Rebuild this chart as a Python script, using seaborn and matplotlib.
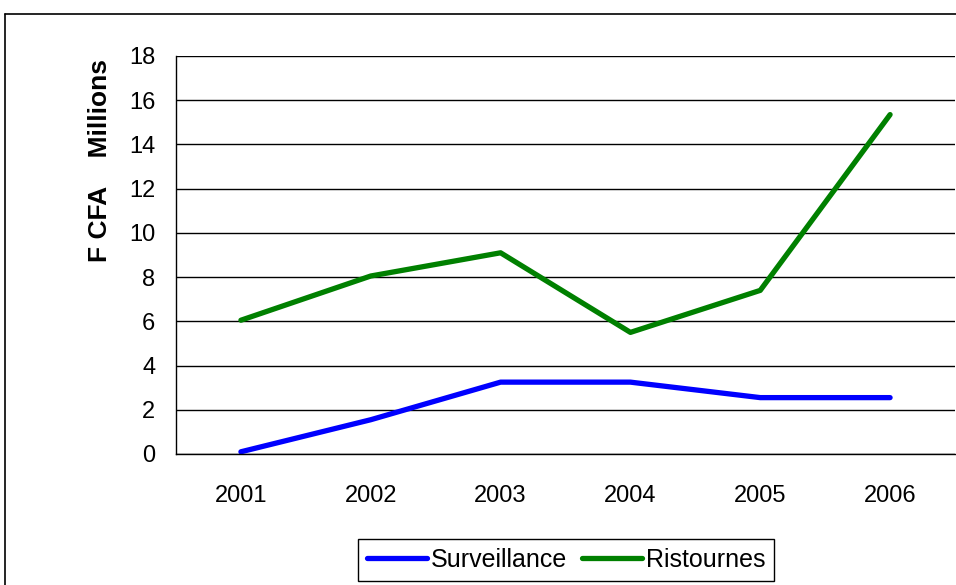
import numpy as np
import pandas as pd
import matplotlib.pyplot as plt
from matplotlib.lines import Line2D
import seaborn as sns

sns.set_style('white')
plt.rcParams['font.family'] = ['Liberation Sans', 'DejaVu Sans']
plt.rcParams['text.color'] = 'black'
plt.rcParams['xtick.color'] = 'black'
plt.rcParams['ytick.color'] = 'black'

years = [2001, 2002, 2003, 2004, 2005, 2006]
surveillance = [0.1, 1.55, 3.25, 3.25, 2.55, 2.55]
ristournes = [6.05, 8.05, 9.1, 5.5, 7.4, 15.35]
series = ['Surveillance', 'Ristournes']
colors = ['#0000FF', '#008000']

df = pd.DataFrame({'year': years * 2,
                   'value': surveillance + ristournes,
                   'serie': ['Surveillance'] * 6 + ['Ristournes'] * 6})

fig = plt.figure(figsize=(9.56, 5.85), dpi=100)
ax = fig.add_axes([176/956, 1-454/585, 779/956, (454-56)/585])

sns.lineplot(data=df, x='year', y='value', hue='serie', hue_order=series,
             palette=colors, lw=3.8, ax=ax, legend=False,
             solid_capstyle='round')

ax.set_xlim(2000.5, 2006.5)
ax.set_ylim(0, 18)
ax.set_yticks(np.arange(0, 19, 2))
ax.set_xticks(years)
ax.set_xticks(np.arange(2000.5, 2007, 1), minor=True)
ax.tick_params(axis='x', which='major', length=0, pad=22, labelsize=17)
ax.tick_params(axis='x', which='minor', length=6, width=1, color='black', direction='out')
ax.tick_params(axis='y', length=6, width=1, color='black', direction='out', pad=9, labelsize=17)
ax.yaxis.grid(True, color='black', lw=1)
ax.xaxis.grid(False)
ax.set_axisbelow(True)
ax.set_xlabel('')
ax.set_ylabel('')
for s in ['top', 'right']:
    ax.spines[s].set_visible(False)
for s in ['left', 'bottom']:
    ax.spines[s].set_color('black')
    ax.spines[s].set_linewidth(1)

fig.text(100/956, 1-161/585, 'F CFA    Millions', rotation=90, ha='center', va='center',
         fontsize=19, fontweight='bold')

handles = [Line2D([], [], color=c, lw=3.8, solid_capstyle='round') for c in colors]
leg = fig.legend(handles, series, loc='center', bbox_to_anchor=(566/956, 1-560/585),
                 ncol=2, fontsize=18, frameon=True, fancybox=False, framealpha=1,
                 edgecolor='black', handlelength=2.4, handletextpad=0.15,
                 columnspacing=0.6, borderpad=0.35)
leg.get_frame().set_linewidth(1)

# outer chart frame
fig.add_artist(Line2D([5/956, 5/956], [0, 1-14/585], color='black', lw=1.2, transform=fig.transFigure))
fig.add_artist(Line2D([5/956, 1], [1-14/585, 1-14/585], color='black', lw=1.2, transform=fig.transFigure))

fig.savefig('out.png', dpi=100)
